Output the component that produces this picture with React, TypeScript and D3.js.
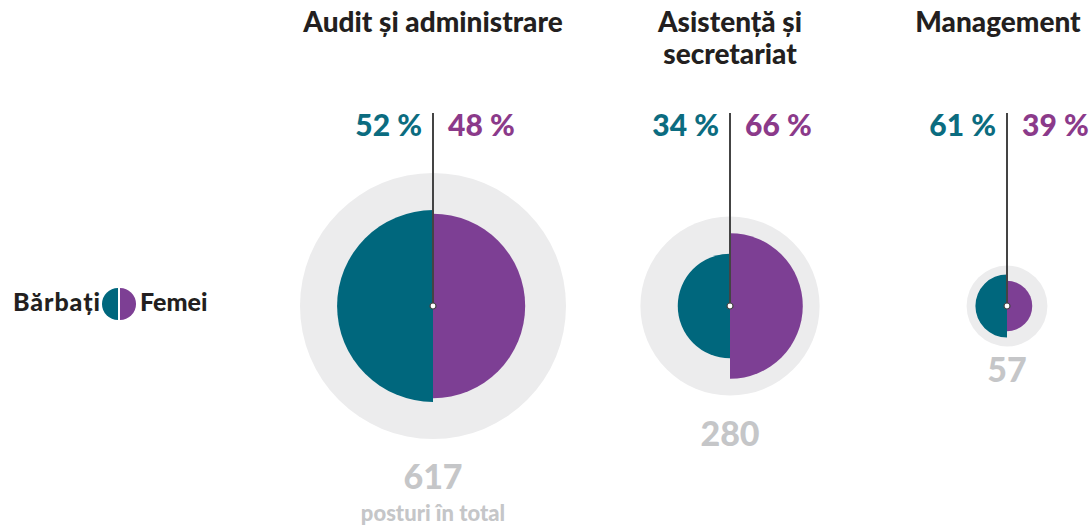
import React from 'react';
import * as d3 from 'd3';

// categories and values
const categories = ['Audit și administrare', 'Asistență și secretariat', 'Management'];
const titleLines = [['Audit și administrare'], ['Asistență și', 'secretariat'], ['Management']];
const totals = [617, 280, 57];
const menShare = [52, 34, 61];
const womenShare = [48, 66, 39];

const TEAL = '#00677d';
const PURPLE = '#7d3f94';
const TEAL_TEXT = '#0b6c80';
const PURPLE_TEXT = '#8b3a8a';
const GREY = '#ececed';
const TOTAL_TEXT = '#c5c6c8';
const FONT = 'Lato, "Open Sans", sans-serif';

const W = 1092;
const H = 529;

const App = () => {
  const cy = 306;
  const x = d3.scalePoint<string>().domain(categories).range([433, 1007]);
  // second centre sits a bit off the even spacing in the original
  const cx = (c: string, i: number) => (i === 1 ? 730 : (x(c) as number));
  const r = d3.scaleSqrt().domain([0, 617]).range([0, 133]);

  const halfArc = (radius: number, left: boolean) =>
    d3.arc()({
      innerRadius: 0,
      outerRadius: radius,
      startAngle: left ? Math.PI : 0,
      endAngle: left ? 2 * Math.PI : Math.PI,
    }) as string;

  return (
    <svg width={W} height={H} style={{ position: 'absolute', left: 0, top: 0 }} fontFamily={FONT}>
      {/* legend */}
      <g fontWeight={900} fontSize={25} fill="#231f20">
        <text x={100} y={311} textAnchor="end" textLength={87}>Bărbați</text>
        <g transform="translate(119,304)">
          <path d={halfArc(16, true)} fill={TEAL} transform="translate(-1,0)" />
          <path d={halfArc(16, false)} fill={PURPLE} transform="translate(1,0)" />
        </g>
        <text x={140} y={311}>Femei</text>
      </g>

      {categories.map((c, i) => {
        const px = cx(c, i);
        const rTot = r(totals[i]);
        const rMen = r((totals[i] * menShare[i]) / 100);
        const rWomen = r((totals[i] * womenShare[i]) / 100);
        const lines = titleLines[i];
        const titleX = i === 2 ? 998 : px;
        return (
          <g key={c}>
            <text x={titleX} y={32} textAnchor="middle" fontWeight={900} fontSize={28} fill="#231f20">
              {lines.map((l, j) => (
                <tspan key={j} x={titleX} dy={j === 0 ? 0 : 32}>{l}</tspan>
              ))}
            </text>
            <circle cx={px} cy={cy} r={rTot} fill={GREY} />
            <g transform={`translate(${px},${cy})`}>
              <path d={halfArc(rMen, true)} fill={TEAL} />
              <path d={halfArc(rWomen, false)} fill={PURPLE} />
              <line x1={0} x2={0} y1={113 - cy} y2={0} stroke="#444" strokeWidth={2} />
              <circle r={3} fill="#fff" stroke="#444" strokeWidth={1.2} />
            </g>
            <text x={px - 11} y={136} textAnchor="end" fontWeight={900} fontSize={30} fill={TEAL_TEXT}>
              {menShare[i]} %
            </text>
            <text x={px + 15} y={136} textAnchor="start" fontWeight={900} fontSize={30} fill={PURPLE_TEXT}>
              {womenShare[i]} %
            </text>
            <text
              x={px}
              y={cy + rTot + (i === 2 ? 36 : 50)}
              textAnchor="middle"
              fontWeight={900}
              fontSize={34}
              fill={TOTAL_TEXT}
            >
              {totals[i]}
            </text>
            {i === 0 && (
              <text x={px} y={521} textAnchor="middle" fontWeight={900} fontSize={22} fill={TOTAL_TEXT}>
                posturi în total
              </text>
            )}
          </g>
        );
      })}
    </svg>
  );
};

export default App;
